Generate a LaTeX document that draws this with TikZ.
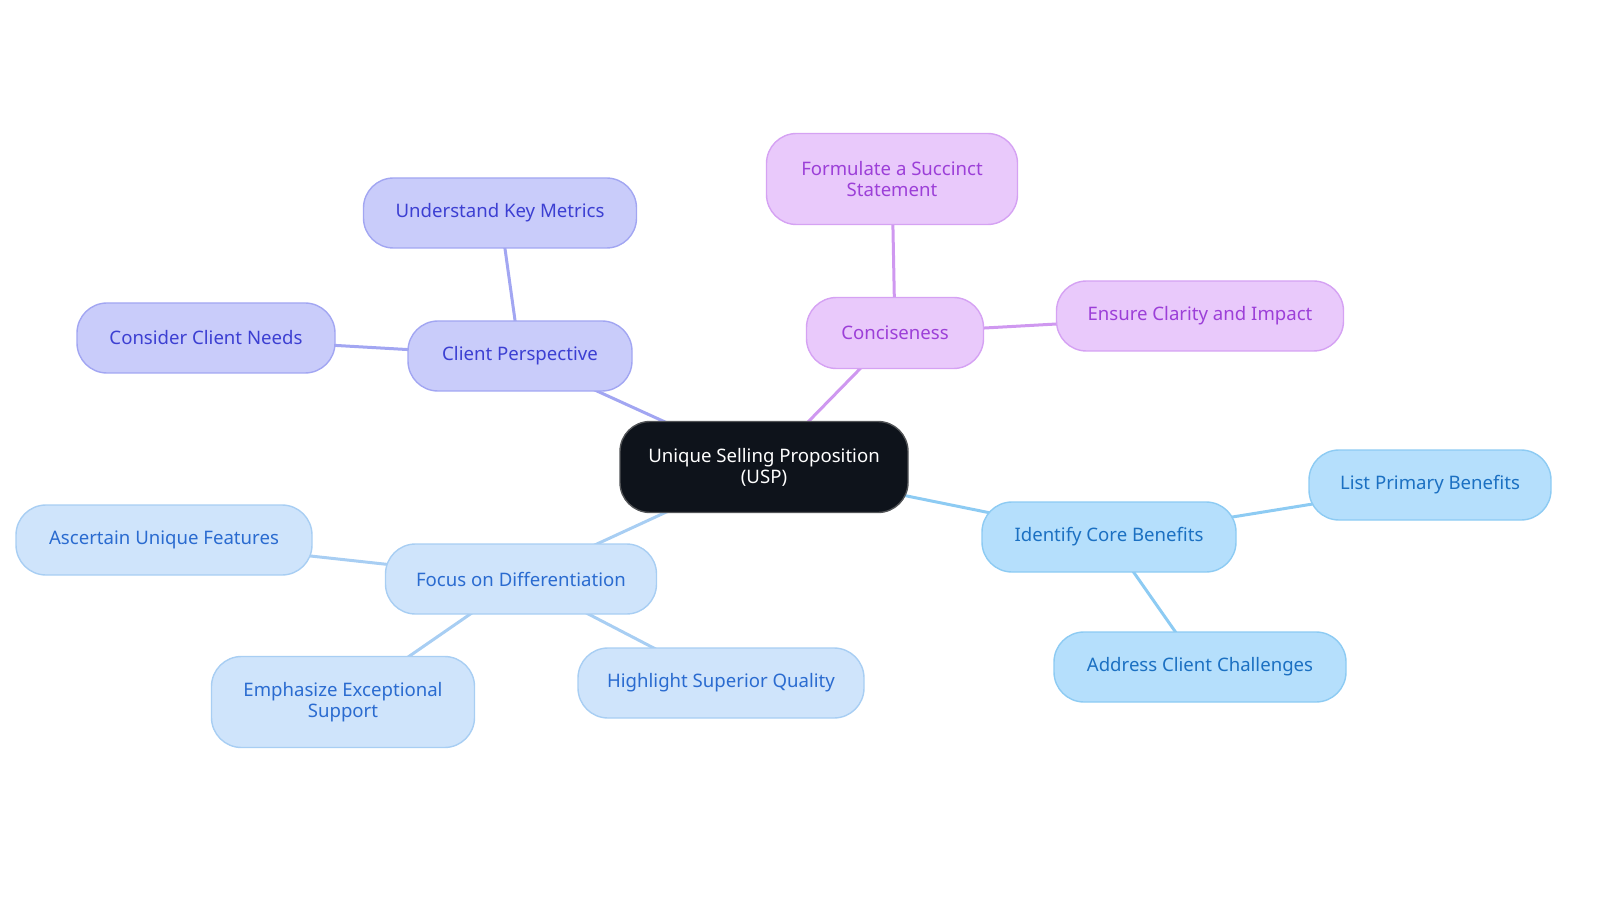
\documentclass[tikz,border=0pt]{standalone}
\usepackage{fontspec}
\setmainfont{Noto Sans}
\usetikzlibrary{backgrounds}
\definecolor{uspfill}{HTML}{0E131B}
\definecolor{cpfill}{HTML}{C9CCFA}
\definecolor{cpdraw}{HTML}{A2A6F2}
\definecolor{cptext}{HTML}{3C3FD2}
\definecolor{cofill}{HTML}{E9C9FB}
\definecolor{codraw}{HTML}{D5A2F3}
\definecolor{cotext}{HTML}{9C3FD8}
\definecolor{icfill}{HTML}{B5DFFC}
\definecolor{icdraw}{HTML}{8DCBF3}
\definecolor{ictext}{HTML}{1B70C2}
\definecolor{fdfill}{HTML}{CFE4FB}
\definecolor{fddraw}{HTML}{A8CEF3}
\definecolor{fdtext}{HTML}{2A6BD0}
\begin{document}
\begin{tikzpicture}[x=0.5pt, y=-0.5pt,
  box/.style={rounded corners=15pt, line width=0.7pt, align=center,
    font=\fontsize{9.3}{10.5}\selectfont, inner sep=0pt},
  usp/.style={box, fill=uspfill, draw=gray!60!uspfill, text=white},
  cp/.style={box, fill=cpfill, draw=cpdraw, text=cptext},
  co/.style={box, fill=cofill, draw=codraw, text=cotext},
  ic/.style={box, fill=icfill, draw=icdraw, text=ictext},
  fd/.style={box, fill=fdfill, draw=fddraw, text=fdtext},
  link/.style={line width=1.5pt}]
\useasboundingbox (0,0) rectangle (1600,903);
% centre
\path (764,467) node[usp, minimum width=144pt, minimum height=45.5pt] (usp) {Unique Selling Proposition\\(USP)};
% client perspective
\path (520,356) node[cp, minimum width=112pt, minimum height=35pt] (cp) {Client Perspective};
\path (500,213) node[cp, minimum width=136.5pt, minimum height=35pt] (km) {Understand Key Metrics};
\path (206,338) node[cp, minimum width=129pt, minimum height=35pt] (cn) {Consider Client Needs};
% conciseness
\path (895,333) node[co, minimum width=88.5pt, minimum height=35.5pt] (co) {Conciseness};
\path (892,179) node[co, minimum width=125.5pt, minimum height=45.5pt] (fs) {Formulate a Succinct\\Statement};
\path (1200,316) node[co, minimum width=143.5pt, minimum height=35pt] (ec) {Ensure Clarity and Impact};
% core benefits
\path (1109,537) node[ic, minimum width=127pt, minimum height=35pt] (ic) {Identify Core Benefits};
\path (1430,485) node[ic, minimum width=121pt, minimum height=35pt] (lp) {List Primary Benefits};
\path (1200,667) node[ic, minimum width=146pt, minimum height=35pt] (ac) {Address Client Challenges};
% differentiation
\path (521,579) node[fd, minimum width=135.5pt, minimum height=35pt] (fd) {Focus on Differentiation};
\path (164,540) node[fd, minimum width=148pt, minimum height=35pt] (au) {Ascertain Unique Features};
\path (343,702) node[fd, minimum width=131.5pt, minimum height=45.5pt] (es) {Emphasize Exceptional\\Support};
\path (721,683) node[fd, minimum width=143pt, minimum height=35pt] (hq) {Highlight Superior Quality};
\begin{scope}[on background layer]
\draw [link, cpdraw] (usp.center) -- (cp.center);
\draw [link, cpdraw] (cp.center) -- (km.center);
\draw [link, cpdraw] (cp.center) -- (cn.center);
\draw [link, codraw!90!cotext] (usp.center) -- (co.center);
\draw [link, codraw!90!cotext] (co.center) -- (fs.center);
\draw [link, codraw!90!cotext] (co.center) -- (ec.center);
\draw [link, icdraw] (usp.center) -- (ic.center);
\draw [link, icdraw] (ic.center) -- (lp.center);
\draw [link, icdraw] (ic.center) -- (ac.center);
\draw [link, fddraw] (usp.center) -- (fd.center);
\draw [link, fddraw] (fd.center) -- (au.center);
\draw [link, fddraw] (fd.center) -- (es.center);
\draw [link, fddraw] (fd.center) -- (hq.center);
\end{scope}
\end{tikzpicture}
\end{document}
